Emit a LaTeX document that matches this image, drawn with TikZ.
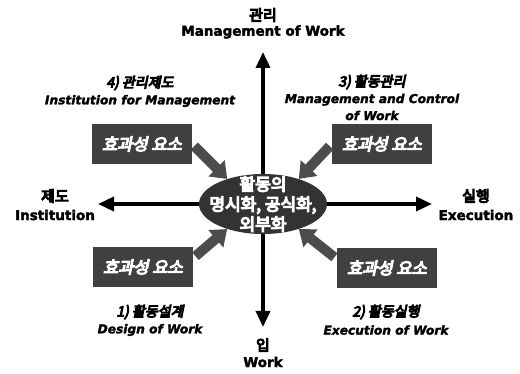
\documentclass[tikz,border=0pt]{standalone}
\usepackage{fontspec}
\setmainfont{DejaVu Sans}[BoldFeatures={FakeBold=2.5},BoldItalicFeatures={FakeBold=2}]
\newfontfamily\krb{Noto Sans CJK KR}[FakeBold=7]
\newfontfamily\krbi{Noto Sans CJK KR}[FakeBold=7,FakeSlant=0.2]
\usetikzlibrary{positioning,arrows.meta,shapes.geometric}

\begin{document}
\begin{tikzpicture}[x=1pt,y=-1pt,
	axis/.style={line width=3.5pt,-{Triangle[width=14pt,length=16pt]}},
	push/.style={line width=10pt,black!70,shorten <=3pt,-{Triangle[width=22pt,length=15pt]}},
	krhead/.style={font=\krb\fontsize{15}{17}\selectfont,inner sep=0pt},
	enhead/.style={font=\bfseries\fontsize{13.5}{15}\selectfont,inner sep=0pt},
	krphase/.style={font=\krbi\fontsize{14}{16}\selectfont,inner sep=0pt},
	enphase/.style={font=\bfseries\itshape\fontsize{12.2}{17}\selectfont,align=center,inner sep=0pt},
	factor/.style={fill=black!75,text=white,minimum width=100pt,minimum height=40pt,inner sep=0pt,
		font=\krbi\fontsize{16.5}{18}\selectfont}]
	\useasboundingbox (0,0) rectangle (520,374);
	% axis ends
	\node[krhead] (mgmtkr) at (263,15) {관리};
	\node[enhead] (mgmt) at (263,32) {Management of Work};
	\node[krhead] (workkr) at (263,345) {입};
	\node[enhead] (work) at (263,362) {Work};
	\node[krhead] (instkr) at (55,196) {제도};
	\node[enhead] (inst) at (55,215) {Institution};
	\node[krhead] (execkr) at (476,196) {실행};
	\node[enhead] (exec) at (476,215) {Execution};
	\coordinate (c) at (263,204);
	\coordinate (up) at (263,52);
	\coordinate (down) at (263,327);
	\coordinate (west) at (98,204);
	\coordinate (east) at (432,204);
	\draw[axis] (c) -- (up);
	\draw[axis] (c) -- (down);
	\draw[axis] (c) -- (west);
	\draw[axis] (c) -- (east);
	% centre
	\node[ellipse,fill=black!80,minimum width=128pt,minimum height=60pt,inner sep=0pt] (act) at (c) {};
	\node[text=white,align=center,inner sep=0pt,font=\krb\fontsize{17}{20}\selectfont] (acttext) at (act) {활동의\\명시화, 공식화,\\외부화};
	% quadrants
	\node[krphase] (ph4kr) at (140,83) {4) 관리제도};
	\node[enphase] (ph4) at (140,101) {Institution for Management};
	\node[krphase] (ph3kr) at (372,82) {3) 활동관리};
	\node[enphase] (ph3) at (372,107) {Management and Control\\of Work};
	\node[krphase] (ph1kr) at (150,312) {1) 활동설계};
	\node[enphase] (ph1) at (150,330) {Design of Work};
	\node[krphase] (ph2kr) at (386,312) {2) 활동실행};
	\node[enphase] (ph2) at (386,330) {Execution of Work};
	\node[factor] (eff4) at (142,144) {효과성 요소};
	\node[factor] (eff3) at (382,144) {효과성 요소};
	\node[factor] (eff1) at (143,267) {효과성 요소};
	\node[factor] (eff2) at (387,268) {효과성 요소};
	\draw[push] (eff4.east) -- (act.145);
	\draw[push] (eff3.west) -- (act.35);
	\draw[push] (eff1.10) -- (act.215);
	\draw[push] (eff2.170) -- (act.325);
\end{tikzpicture}
\end{document}
